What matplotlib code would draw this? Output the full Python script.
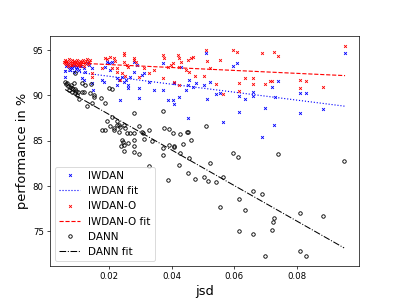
import matplotlib
matplotlib.use("Agg")
import matplotlib.pyplot as plt
import numpy as np

# IWDAN (blue crosses)
iwdan_jsd = [0.0060, 0.0060, 0.0072, 0.0082, 0.0088, 0.0094, 0.0098, 0.0088, 0.0120, 0.0123,
             0.0129, 0.0136, 0.0145, 0.0113, 0.0120, 0.0145, 0.0148, 0.0177, 0.0183, 0.0186,
             0.0193, 0.0199, 0.0209, 0.0202, 0.0224, 0.0231, 0.0224, 0.0240, 0.0234, 0.0247,
             0.0253, 0.0262, 0.0262, 0.0266, 0.0278, 0.0281, 0.0288, 0.0294, 0.0294, 0.0304,
             0.0310, 0.0326, 0.0342, 0.0373, 0.0373, 0.0389, 0.0405, 0.0408, 0.0408, 0.0430,
             0.0424, 0.0446, 0.0453, 0.0456, 0.0453, 0.0468, 0.0478, 0.0510, 0.0503, 0.0522,
             0.0513, 0.0541, 0.0554, 0.0563, 0.0595, 0.0608, 0.0614, 0.0614, 0.0633, 0.0659,
             0.0659, 0.0687, 0.0697, 0.0719, 0.0729, 0.0725, 0.0738, 0.0808, 0.0808, 0.0830,
             0.0884, 0.0953, 0.0069, 0.0075, 0.0104, 0.0110, 0.0063, 0.0079]
iwdan_perf = [92.68, 92.01, 93.12, 93.01, 93.23, 92.90, 93.12, 92.57, 93.01, 92.57,
              93.56, 93.34, 93.01, 91.90, 91.68, 91.35, 90.58, 91.68, 91.46, 93.12,
              93.67, 93.56, 93.67, 92.79, 91.90, 91.68, 91.13, 92.01, 89.47, 91.46,
              91.68, 90.80, 91.13, 92.01, 92.57, 93.67, 93.34, 90.80, 89.69, 92.23,
              92.46, 91.46, 90.58, 90.58, 93.56, 89.47, 89.47, 89.03, 91.35, 93.12,
              89.80, 90.58, 91.13, 91.68, 87.48, 90.91, 91.35, 94.67, 91.13, 91.46,
              89.58, 90.13, 90.24, 87.04, 93.23, 93.56, 89.91, 88.14, 89.58, 90.35,
              89.91, 85.38, 88.58, 90.91, 89.80, 86.70, 91.57, 90.24, 88.03, 90.24,
              88.47, 94.67, 93.45, 92.79, 92.79, 93.23, 93.23, 93.12]

# IWDAN-O (red crosses)
iwdano_jsd = [0.0060, 0.0060, 0.0066, 0.0069, 0.0072, 0.0075, 0.0079, 0.0082, 0.0085, 0.0088,
              0.0091, 0.0094, 0.0098, 0.0101, 0.0104, 0.0107, 0.0110, 0.0113, 0.0117, 0.0120,
              0.0123, 0.0126, 0.0129, 0.0132, 0.0136, 0.0139, 0.0063, 0.0069, 0.0082, 0.0094,
              0.0107, 0.0056, 0.0145, 0.0145, 0.0177, 0.0186, 0.0193, 0.0202, 0.0215, 0.0218,
              0.0209, 0.0224, 0.0224, 0.0247, 0.0247, 0.0247, 0.0256, 0.0262, 0.0278, 0.0281,
              0.0285, 0.0240, 0.0234, 0.0250, 0.0294, 0.0310, 0.0326, 0.0342, 0.0373, 0.0376,
              0.0373, 0.0399, 0.0405, 0.0389, 0.0421, 0.0424, 0.0430, 0.0424, 0.0446, 0.0456,
              0.0453, 0.0468, 0.0462, 0.0408, 0.0424, 0.0475, 0.0503, 0.0510, 0.0513, 0.0522,
              0.0541, 0.0554, 0.0563, 0.0595, 0.0608, 0.0614, 0.0614, 0.0633, 0.0659, 0.0659,
              0.0687, 0.0697, 0.0719, 0.0725, 0.0738, 0.0808, 0.0808, 0.0830, 0.0884, 0.0953,
              0.0712]
iwdano_perf = [93.92, 93.58, 93.80, 93.47, 94.03, 93.69, 93.36, 93.92, 93.58, 93.80,
               93.47, 93.69, 93.92, 93.36, 93.58, 93.80, 93.47, 93.69, 93.92, 93.25,
               93.58, 93.80, 94.03, 93.47, 93.69, 93.92, 93.45, 93.23, 93.34, 93.34,
               93.23, 93.67, 92.46, 92.01, 93.01, 94.12, 94.00, 94.23, 94.12, 93.78,
               93.01, 93.01, 92.57, 94.67, 94.45, 93.67, 93.34, 93.12, 93.89, 94.12,
               93.67, 92.46, 91.68, 92.12, 92.01, 93.01, 92.46, 92.79, 94.45, 94.12,
               91.90, 93.34, 93.56, 93.12, 94.45, 94.12, 93.67, 93.12, 92.79, 92.57,
               93.89, 94.23, 94.12, 91.46, 91.13, 92.12, 92.12, 95.00, 93.78, 93.01,
               91.24, 93.89, 90.13, 95.00, 94.78, 91.35, 90.46, 91.90, 91.90, 91.24,
               94.67, 91.24, 91.57, 94.78, 94.34, 91.68, 90.80, 91.57, 90.91, 95.44,
               91.57]

# DANN (black circles)
dann_jsd = [0.0060, 0.0063, 0.0069, 0.0075, 0.0082, 0.0085, 0.0091, 0.0072, 0.0082, 0.0091,
            0.0098, 0.0088, 0.0091, 0.0104, 0.0113, 0.0120, 0.0113, 0.0123, 0.0142, 0.0129,
            0.0145, 0.0139, 0.0152, 0.0152, 0.0174, 0.0186, 0.0199, 0.0209, 0.0177, 0.0186,
            0.0202, 0.0193, 0.0224, 0.0209, 0.0224, 0.0231, 0.0234, 0.0247, 0.0250, 0.0240,
            0.0247, 0.0266, 0.0278, 0.0281, 0.0281, 0.0262, 0.0278, 0.0294, 0.0304, 0.0310,
            0.0329, 0.0373, 0.0376, 0.0405, 0.0392, 0.0408, 0.0437, 0.0453, 0.0462, 0.0237,
            0.0247, 0.0278, 0.0294, 0.0338, 0.0326, 0.0392, 0.0427, 0.0449, 0.0510, 0.0408,
            0.0427, 0.0373, 0.0373, 0.0456, 0.0424, 0.0453, 0.0389, 0.0475, 0.0503, 0.0516,
            0.0541, 0.0563, 0.0522, 0.0595, 0.0611, 0.0738, 0.0659, 0.0687, 0.0614, 0.0554,
            0.0633, 0.0725, 0.0722, 0.0808, 0.0884, 0.0614, 0.0659, 0.0719, 0.0697, 0.0808,
            0.0830, 0.0950, 0.0243, 0.0256, 0.0307, 0.0215, 0.0215, 0.0231, 0.0066, 0.0079,
            0.0094, 0.0101]
dann_perf = [91.46, 91.24, 91.02, 90.91, 90.80, 90.69, 90.69, 90.58, 90.35, 90.24,
             90.02, 91.35, 92.46, 89.58, 90.35, 90.35, 91.35, 91.13, 91.24, 88.81,
             89.14, 90.24, 90.02, 89.80, 89.69, 89.14, 90.80, 90.69, 86.15, 86.15,
             86.59, 87.15, 87.15, 87.59, 86.70, 85.93, 86.48, 86.70, 86.37, 85.04,
             84.49, 85.82, 85.82, 85.04, 88.03, 84.71, 84.38, 86.59, 85.93, 85.15,
             86.15, 88.25, 86.37, 85.82, 84.49, 84.27, 84.60, 85.93, 85.04, 84.38,
             83.83, 83.72, 83.50, 84.93, 82.17, 86.26, 85.71, 85.93, 86.59, 84.38,
             83.61, 84.16, 83.39, 83.05, 82.28, 81.39, 80.62, 80.73, 80.95, 80.51,
             80.40, 80.95, 82.50, 83.61, 83.16, 83.50, 79.40, 79.07, 78.52, 77.74,
             77.30, 76.42, 76.08, 76.97, 76.64, 75.09, 74.65, 75.20, 72.32, 72.88,
             72.32, 82.72, 84.82, 85.82, 85.82, 86.15, 86.37, 86.70, 91.35, 91.13,
             90.46, 90.35]


def fit_line(x, y):
    x = np.asarray(x)
    slope, icpt = np.polyfit(x, y, 1)
    xs = np.array([x.min(), x.max()])
    return xs, slope * xs + icpt


fig, ax = plt.subplots(figsize=(6.4, 4.8), dpi=399 / 6.4)

ax.plot(iwdan_jsd, iwdan_perf, 'bx', markersize=3.2, mew=1.0, label='IWDAN')
xs, ys = fit_line(iwdan_jsd, iwdan_perf)
ax.plot(xs, ys, 'b:', lw=1.3, label='IWDAN fit')

ax.plot(iwdano_jsd, iwdano_perf, 'rx', markersize=3.2, mew=1.0, label='IWDAN-O')
xs, ys = fit_line(iwdano_jsd, iwdano_perf)
ax.plot(xs, ys, 'r--', lw=1.3, label='IWDAN-O fit')

ax.plot(dann_jsd, dann_perf, 'o', color='k', mfc='none', markersize=4, mew=1.0,
        label='DANN')
xs, ys = fit_line(dann_jsd, dann_perf)
ax.plot(xs, ys, 'k-.', lw=1.2, label='DANN fit')

ax.set_xticks([0.02, 0.04, 0.06, 0.08])
ax.set_yticks([75, 80, 85, 90, 95])
ax.set_xlabel('jsd', fontsize=15)
ax.set_ylabel('performance in %', fontsize=15)
ax.legend(loc='lower left', fontsize=12)

fig.savefig('out.png', dpi=399 / 6.4)
